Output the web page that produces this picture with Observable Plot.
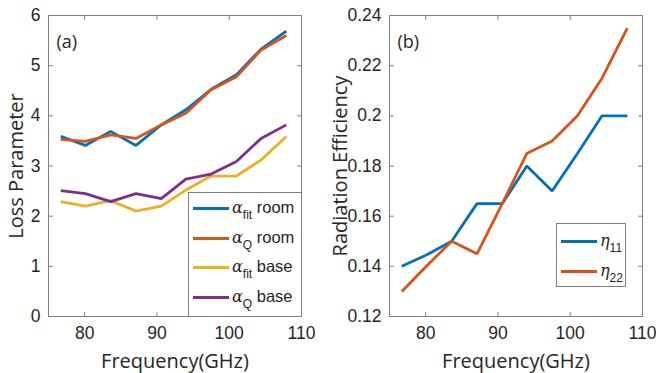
<!DOCTYPE html>
<html>
<head>
<meta charset="utf-8">
<script src="https://cdn.jsdelivr.net/npm/d3@7"></script>
<script src="https://cdn.jsdelivr.net/npm/@observablehq/plot@0.6"></script>
<style>
  body { margin: 0; background: #fff; }
  #wrap { position: relative; width: 656px; height: 373px; overflow: hidden; }
  .panel { position: absolute; top: 0; overflow: visible; }
  .legend { position: absolute; background: #fff; border: 1px solid #7f7f7f; box-sizing: border-box; font-family: "Liberation Sans", Arial, sans-serif; color: #262626; }
  .row { position: absolute; left: 0; height: 0; }
  .sw { position: absolute; left: 4px; width: 36px; height: 3px; top: -1.5px; }
  .lab { position: absolute; left: 43px; top: -11px; white-space: nowrap; font-size: 16.5px; line-height: 20px; }
  .gr { font-family: "DejaVu Serif", serif; font-style: italic; font-size: 16px; }
  .sub { font-size: 12px; position: relative; top: 6px; }
</style>
</head>
<body>
<div id="wrap"></div>
<script>
// ---- data ----
const freq = [76.7, 80.1, 83.6, 87.1, 90.6, 94.0, 97.5, 101.0, 104.4, 107.9];
const alphaFitRoom = [3.59, 3.41, 3.69, 3.41, 3.82, 4.12, 4.53, 4.82, 5.33, 5.69];
const alphaQRoom   = [3.53, 3.49, 3.62, 3.55, 3.82, 4.05, 4.52, 4.78, 5.31, 5.60];
const alphaFitBase = [2.29, 2.20, 2.31, 2.10, 2.20, 2.52, 2.80, 2.80, 3.12, 3.59];
const alphaQBase   = [2.51, 2.45, 2.29, 2.45, 2.35, 2.74, 2.84, 3.09, 3.55, 3.82];
const eta11 = [0.140, 0.1445, 0.150, 0.165, 0.165, 0.180, 0.170, 0.185, 0.200, 0.200];
const eta22 = [0.130, 0.140, 0.150, 0.145, 0.165, 0.185, 0.190, 0.200, 0.215, 0.235];

const xTicks = [80, 90, 100, 110];
const yTicksA = [0, 1, 2, 3, 4, 5, 6];
const yTicksB = [0.12, 0.14, 0.16, 0.18, 0.2, 0.22, 0.24];

const seriesA = [
  {name: "fitRoom", values: alphaFitRoom, color: "#0072BD"},
  {name: "QRoom", values: alphaQRoom, color: "#D95319"},
  {name: "fitBase", values: alphaFitBase, color: "#EDB120"},
  {name: "QBase", values: alphaQBase, color: "#7E2F8E"}
];
const seriesB = [
  {name: "eta11", values: eta11, color: "#0072BD"},
  {name: "eta22", values: eta22, color: "#D95319"}
];

const toRows = (series) => series.flatMap(s => s.values.map((v, i) => ({series: s.name, x: freq[i], y: v})));

const tickColor = "#262626";
const frameColor = "#7f7f7f";
const spike = {draw(context, l) { context.moveTo(0, 0); context.lineTo(0, -l); }};

function panel({series, yDomain, yTicks, yFormat, ml, mr, yLabel, yLabelOff, tag}) {
  const rows = toRows(series);
  const colorMap = new Map(series.map(s => [s.name, s.color]));
  const tk = {length: 4, anchor: "start", shape: spike, stroke: frameColor, strokeWidth: 1};
  return Plot.plot({
    width: 328, height: 373,
    marginLeft: ml, marginRight: mr, marginTop: 15, marginBottom: 57,
    style: {fontFamily: "'Liberation Sans', Arial, sans-serif", fontSize: "17.5px", color: tickColor, background: "white", overflow: "visible"},
    x: {domain: [75, 110]},
    y: {domain: yDomain},
    marks: [
      Plot.axisX({ticks: xTicks, tickSize: 0, tickPadding: 10, label: null}),
      Plot.axisY({ticks: yTicks, tickFormat: yFormat, tickSize: 0, tickPadding: 8, label: null}),
      Plot.vector(xTicks, {x: d => d, frameAnchor: "bottom", rotate: 0, ...tk}),
      Plot.vector(xTicks, {x: d => d, frameAnchor: "top", rotate: 180, ...tk}),
      Plot.vector(yTicks, {y: d => d, frameAnchor: "left", rotate: 90, ...tk}),
      Plot.vector(yTicks, {y: d => d, frameAnchor: "right", rotate: -90, ...tk}),
      Plot.frame({stroke: frameColor}),
      Plot.line(rows, {x: "x", y: "y", z: "series", stroke: d => colorMap.get(d.series), strokeWidth: 2.8, strokeLinejoin: "miter", strokeLinecap: "butt"}),
      Plot.text([tag], {frameAnchor: "top-left", dx: 8, dy: 20, text: d => d, textAnchor: "start", fontFamily: "'Open Sans', sans-serif", fontSize: 18, fill: "#262626"}),
      Plot.text(["Frequency(GHz)"], {frameAnchor: "bottom", dy: 45, text: d => d, textAnchor: "middle", lineAnchor: "middle", fontFamily: "'Open Sans', sans-serif", fontSize: 20, fill: "#262626"}),
      Plot.text([yLabel], {frameAnchor: "left", dx: -yLabelOff, rotate: -90, text: d => d, textAnchor: "middle", lineAnchor: "middle", fontFamily: "'Open Sans', sans-serif", fontSize: 20, fill: "#262626"})
    ]
  });
}

const wrap = document.getElementById("wrap");

const pa = panel({series: seriesA, yDomain: [0, 6], yTicks: yTicksA, yFormat: d => String(d), ml: 48, mr: 27, yLabel: "Loss Parameter", yLabelOff: 32, tag: "(a)"});
pa.classList.add("panel"); pa.style.left = "0px";
wrap.appendChild(pa);

const pb = panel({series: seriesB, yDomain: [0.12, 0.24], yTicks: yTicksB, yFormat: d => String(+d.toFixed(2)), ml: 61, mr: 14, yLabel: "Radiation Efficiency", yLabelOff: 49, tag: "(b)"});
pb.classList.add("panel"); pb.style.left = "328px";
wrap.appendChild(pb);

// ---- legends ----
const legendA = [
  {color: seriesA[0].color, sym: "α", sub: "fit", text: " room"},
  {color: seriesA[1].color, sym: "α", sub: "Q", text: " room"},
  {color: seriesA[2].color, sym: "α", sub: "fit", text: " base"},
  {color: seriesA[3].color, sym: "α", sub: "Q", text: " base"}
];
const legendB = [
  {color: seriesB[0].color, sym: "η", sub: "11", text: ""},
  {color: seriesB[1].color, sym: "η", sub: "22", text: ""}
];

function makeLegend(items, box, rowYs) {
  const lg = document.createElement("div");
  lg.className = "legend";
  Object.assign(lg.style, {left: box.left + "px", top: box.top + "px", width: box.width + "px", height: box.height + "px"});
  items.forEach((it, i) => {
    const r = document.createElement("div");
    r.className = "row";
    r.style.top = rowYs[i] + "px";
    r.innerHTML = `<div class="sw" style="background:${it.color}"></div><div class="lab"><span class="gr">${it.sym}</span><span class="sub">${it.sub}</span>${it.text}</div>`;
    lg.appendChild(r);
  });
  wrap.appendChild(lg);
}
makeLegend(legendA, {left: 188, top: 192, width: 114, height: 125}, [15, 45, 74, 104]);
makeLegend(legendB, {left: 556, top: 223, width: 70, height: 64}, [17, 47]);
</script>
</body>
</html>
